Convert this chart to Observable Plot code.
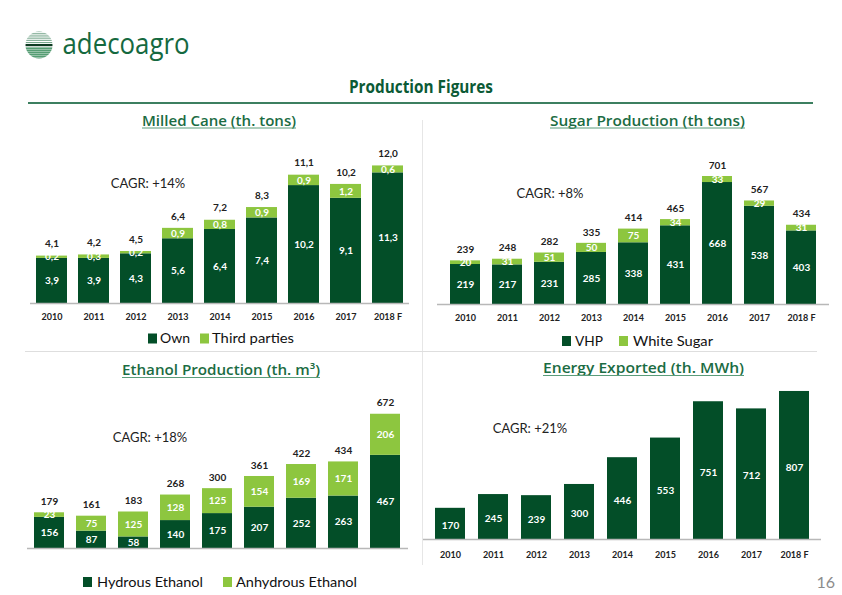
<!DOCTYPE html>
<html>
<head>
<meta charset="utf-8">
<script src="https://cdn.jsdelivr.net/npm/d3@7"></script>
<script src="https://cdn.jsdelivr.net/npm/@observablehq/plot@0.6"></script>
<style>
html,body{margin:0;padding:0;background:#fff;}
#page{position:relative;width:842px;height:595px;overflow:hidden;background:#fff;}
#page svg{position:absolute;}
</style>
</head>
<body>
<div id="page"></div>
<script>
// ---------- data ----------
const years = ["2010","2011","2012","2013","2014","2015","2016","2017","2018 F"];

const caneOwn   = [3.9, 3.9, 4.3, 5.6, 6.4, 7.4, 10.2, 9.1, 11.3];
const caneThird = [0.2, 0.3, 0.2, 0.9, 0.8, 0.9, 0.9, 1.2, 0.6];
const caneTotal = [4.1, 4.2, 4.5, 6.4, 7.2, 8.3, 11.1, 10.2, 12.0];

const sugarVHP   = [219, 217, 231, 285, 338, 431, 668, 538, 403];
const sugarWhite = [20, 31, 51, 50, 75, 34, 33, 29, 31];
const sugarTotal = [239, 248, 282, 335, 414, 465, 701, 567, 434];

const ethHydrous   = [156, 87, 58, 140, 175, 207, 252, 263, 467];
const ethAnhydrous = [23, 75, 125, 128, 125, 154, 169, 171, 206];
const ethTotal     = [179, 161, 183, 268, 300, 361, 422, 434, 672];

const energyExported = [170, 245, 239, 300, 446, 553, 751, 712, 807];

const caneSeries   = ["Own", "Third parties"];
const sugarSeries  = ["VHP", "White Sugar"];
const ethSeries    = ["Hydrous Ethanol", "Anhydrous Ethanol"];

const cagrTexts = ["CAGR: +14%", "CAGR: +8%", "CAGR: +18%", "CAGR: +21%"];
const sectionTitles = ["Milled Cane (th. tons)", "Sugar Production (th tons)", "Ethanol Production (th. m³)", "Energy Exported (th. MWh)"];

// ---------- style ----------
const DARK = "#034e28", LIGHT = "#8dc63f";
const FONT = "Lato, 'Open Sans', sans-serif";
const page = document.getElementById("page");

// ---------- decoration layer ----------
const deco = d3.select(page).append("svg")
  .attr("width", 842).attr("height", 595)
  .style("left", "0px").style("top", "0px");

function txt(x, y, s, {size = 12, weight = 400, fill = "#222", anchor = "start", len = null, family = FONT} = {}) {
  const t = deco.append("text").attr("x", x).attr("y", y)
    .attr("font-size", size).attr("font-weight", weight).attr("fill", fill)
    .attr("font-family", family).attr("text-anchor", anchor).text(s);
  if (len) t.attr("textLength", len).attr("lengthAdjust", "spacingAndGlyphs");
  return t;
}
function line(x1, y1, x2, y2, stroke, w = 1) {
  deco.append("line").attr("x1", x1).attr("y1", y1).attr("x2", x2).attr("y2", y2)
    .attr("stroke", stroke).attr("stroke-width", w);
}

// logo icon
const defs = deco.append("defs");
defs.append("clipPath").attr("id", "logoclip").append("circle").attr("cx", 39).attr("cy", 45).attr("r", 13.5);
const lg = deco.append("g").attr("clip-path", "url(#logoclip)");
for (let y = 31; y < 44; y += 2.2) lg.append("rect").attr("x", 24).attr("y", y).attr("width", 30).attr("height", 1.1).attr("fill", "#7aa98f");
lg.append("rect").attr("x", 24).attr("y", 44).attr("width", 30).attr("height", 2.2).attr("fill", "#0d3b22");
for (let y = 47.5; y < 60; y += 2.0) lg.append("rect").attr("x", 24).attr("y", y).attr("width", 30).attr("height", 1.3).attr("fill", "#2c8552");
txt(62.5, 53.5, "adecoagro", {size: 29, fill: "#15693f", len: 127, family: "'Open Sans', sans-serif"});

// header
txt(349, 93, "Production Figures", {size: 17, weight: 700, fill: "#0b5a35", len: 144, family: "'Open Sans', sans-serif"});
line(28, 103, 813, 103, "#3c7f60", 2);

// section titles (underlined)
const titleOpts = {size: 14.5, weight: 600, fill: "#1b6c43", family: "'Open Sans', sans-serif"};
txt(142, 125.5, sectionTitles[0], {...titleOpts, len: 154}); line(142, 128, 296, 128, "#5a9c7a", 1);
txt(550, 125.5, sectionTitles[1], {...titleOpts, len: 195}); line(550, 128, 745, 128, "#5a9c7a", 1);
txt(122, 375, sectionTitles[2], {...titleOpts, len: 198}); line(122, 377.5, 320, 377.5, "#5a9c7a", 1);
txt(543, 373, sectionTitles[3], {...titleOpts, len: 201}); line(543, 375.5, 744, 375.5, "#5a9c7a", 1);

// dividers
line(422.5, 120, 422.5, 565, "#e6e6e6", 1);
line(25, 351.5, 817, 351.5, "#dedede", 1);

// CAGR annotations
txt(148, 187.5, cagrTexts[0], {size: 13, anchor: "middle"});
txt(550, 197.5, cagrTexts[1], {size: 13, anchor: "middle"});
txt(150, 441.5, cagrTexts[2], {size: 13, anchor: "middle"});
txt(530, 432.5, cagrTexts[3], {size: 13, anchor: "middle"});

// legends
function legendItem(sx, sy, color, tx, ty, label, len) {
  deco.append("rect").attr("x", sx).attr("y", sy).attr("width", 9).attr("height", 10).attr("fill", color);
  txt(tx, ty, label, {size: 14, fill: "#111", len});
}
legendItem(148, 333.5, DARK, 160, 343, caneSeries[0], 30);
legendItem(200, 333.5, LIGHT, 212, 343, caneSeries[1], 82);
legendItem(562, 336, DARK, 575, 345.5, sugarSeries[0], 28);
legendItem(619, 336, LIGHT, 633, 345.5, sugarSeries[1], 80);
legendItem(83, 577, DARK, 97, 586.5, ethSeries[0], 106);
legendItem(223, 577, LIGHT, 236, 586.5, ethSeries[1], 121);

// page number
txt(835, 588, "16", {size: 16, fill: "#8c8c8c", anchor: "end"});

// ---------- charts ----------
function place(svg, left, top) {
  svg.style.position = "absolute";
  svg.style.left = left + "px";
  svg.style.top = top + "px";
  page.appendChild(svg);
}

function stacked({a, b, names, totals, fmt, left, top, width, height, mL, mR, mT, mB, yMax, pi, po, axis, tickPad, totalDy}) {
  const rows = years.flatMap((c, i) => [
    {year: c, series: names[0], value: a[i], mid: a[i] / 2},
    {year: c, series: names[1], value: b[i], mid: a[i] + b[i] / 2}
  ]);
  const tot = years.map((c, i) => ({year: c, top: a[i] + b[i], label: totals[i]}));
  const xOpts = {domain: years, paddingInner: pi, paddingOuter: po};
  if (!axis) xOpts.axis = null;
  const svg = Plot.plot({
    width, height, marginLeft: mL, marginRight: mR, marginTop: mT, marginBottom: mB,
    style: {fontFamily: FONT, color: "#222", background: "transparent", overflow: "visible"},
    x: xOpts,
    y: {domain: [0, yMax], axis: null},
    color: {domain: names, range: [DARK, LIGHT]},
    marks: [
      Plot.barY(rows, {x: "year", y: "value", fill: "series"}),
      Plot.ruleY([0], {stroke: "#b8b8b8", strokeWidth: 1.5}),
      Plot.text(rows, {x: "year", y: "mid", text: d => fmt(d.value), fill: "#fff", fontSize: 10, fontWeight: "bold"}),
      Plot.text(tot, {x: "year", y: "top", text: d => fmt(d.label), dy: totalDy, fill: "#222", fontSize: 10, fontWeight: "bold"}),
      axis ? Plot.axisX({tickSize: 0, tickPadding: tickPad, fontSize: 9, fontWeight: "bold", label: null}) : null
    ]
  });
  place(svg, left, top);
}

const commaFmt = v => v.toFixed(1).replace(".", ",");
const intFmt = v => String(v);

stacked({a: caneOwn, b: caneThird, names: caneSeries, totals: caneTotal, fmt: commaFmt,
  left: 20, top: 140, width: 400, height: 190, mL: 10, mR: 11, mT: 3, mB: 27,
  yMax: 13.84, pi: 0.26, po: 0.12, axis: true, tickPad: 10, totalDy: -12});

stacked({a: sugarVHP, b: sugarWhite, names: sugarSeries, totals: sugarTotal, fmt: intFmt,
  left: 430, top: 150, width: 400, height: 180, mL: 7, mR: 1, mT: 4, mB: 26,
  yMax: 821.5, pi: 0.28, po: 0.2, axis: true, tickPad: 10, totalDy: -11});

stacked({a: ethHydrous, b: ethAnhydrous, names: ethSeries, totals: ethTotal, fmt: intFmt,
  left: 20, top: 390, width: 400, height: 165, mL: 7, mR: 12, mT: 4, mB: 7,
  yMax: 772, pi: 0.274, po: 0.094, axis: false, tickPad: 10, totalDy: -11});

// energy (single series)
{
  const rows = years.map((c, i) => ({year: c, value: energyExported[i]}));
  const svg = Plot.plot({
    width: 420, height: 190, marginLeft: 3, marginRight: 19, marginTop: 4, marginBottom: 31,
    style: {fontFamily: FONT, color: "#222", background: "transparent", overflow: "visible"},
    x: {domain: years, paddingInner: 0.294, paddingOuter: 0.18},
    y: {domain: [0, 845], axis: null},
    marks: [
      Plot.barY(rows, {x: "year", y: "value", fill: DARK}),
      Plot.ruleY([0], {stroke: "#b8b8b8", strokeWidth: 1.5}),
      Plot.text(rows, {x: "year", y: d => d.value / 2, text: d => intFmt(d.value), dy: 2, fill: "#fff", fontSize: 10, fontWeight: "bold"}),
      Plot.axisX({tickSize: 0, tickPadding: 12, fontSize: 9, fontWeight: "bold", label: null})
    ]
  });
  place(svg, 420, 380);
}
</script>
</body>
</html>
